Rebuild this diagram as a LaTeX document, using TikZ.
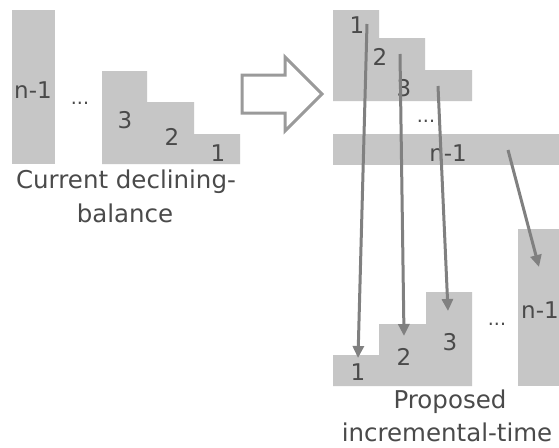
\documentclass[tikz,border=0pt]{standalone}
\usepackage{fontspec}
\setmainfont{DejaVu Sans}
\usetikzlibrary{arrows.meta}
\definecolor{blockgray}{HTML}{C6C6C6}
\definecolor{txtgray}{HTML}{4A4A4A}
\definecolor{arrgray}{HTML}{808080}
\definecolor{outgray}{HTML}{9A9A9A}
\tikzset{
  block/.style={fill=blockgray, draw=none},
  lbl/.style={text=txtgray, font=\fontsize{23}{25}\selectfont, inner sep=0pt, anchor=center},
  dots/.style={text=txtgray, font=\fontsize{19}{21}\selectfont, inner sep=0pt},
  caption/.style={text=txtgray, font=\fontsize{24.5}{27}\selectfont, inner sep=0pt, anchor=center},
  mover/.style={draw=arrgray, line width=3pt, -{Triangle[length=12pt,width=11pt]}},
  hollow/.style={draw=outgray, line width=3pt, fill=white, line join=miter}
}
\begin{document}
\begin{tikzpicture}[x=1pt,y=-1pt]
\clip (0,0) rectangle (559,447);
\fill[white] (0,0) rectangle (559,447);
% ---------- left: current declining-balance ----------
\fill[block] (12,10) rectangle (55,164);
\node[lbl] (ln) at (33,90) {n-1};
\node[dots] (ldots) at (80,103) {...};
\fill[block] (102,164) -- (102,71) -- (147,71) -- (147,102) -- (194,102) -- (194,134) -- (240,134) -- (240,164) -- cycle;
\node[lbl] (l3) at (125,120) {3};
\node[lbl] (l2) at (172,137) {2};
\node[lbl] (l1) at (218,153) {1};
\node[caption] (cap1) at (126,182) {Current declining-};
\node[caption] (cap2) at (125,213) {balance};
% ---------- hollow arrow ----------
\draw[hollow] (242,75) -- (285,75) -- (285,57) -- (322,94) -- (285,131) -- (285,113) -- (242,113) -- cycle;
% ---------- right top: descending staircase ----------
\fill[block] (333,101) -- (333,10) -- (379,10) -- (379,38) -- (425,38) -- (425,70) -- (472,70) -- (472,101) -- cycle;
\node[lbl] (t1) at (357,25) {1};
\node[lbl] (t2) at (380,57) {2};
\node[lbl] (t3) at (404,88) {3};
\node[dots] (tdots) at (426,121) {...};
\fill[block] (333,134) rectangle (570,165);
\node[lbl] (tn) at (448,153) {n-1};
% ---------- right bottom: ascending staircase ----------
\fill[block] (333,386) -- (333,355) -- (379,355) -- (379,324) -- (426,324) -- (426,292) -- (472,292) -- (472,386) -- cycle;
\node[lbl] (b1) at (358,372) {1};
\node[lbl] (b2) at (404,357) {2};
\node[lbl] (b3) at (450,342) {3};
\node[dots] (bdots) at (497,324) {...};
\fill[block] (518,229) rectangle (570,386);
\node[lbl, anchor=west] (bn) at (521,310) {n-1};
\node[caption] (cap3) at (450,402) {Proposed};
\node[caption] (cap4) at (447,432) {incremental-time};
% ---------- moving arrows ----------
\coordinate (s1) at (367,24);
\coordinate (e1) at (358,358);
\coordinate (s2) at (400,54);
\coordinate (e2) at (404,336);
\coordinate (s3) at (438,86);
\coordinate (e3) at (448,311);
\coordinate (s4) at (508,150);
\coordinate (e4) at (539,267);
\draw[mover] (s1) -- (e1);
\draw[mover] (s2) -- (e2);
\draw[mover] (s3) -- (e3);
\draw[mover] (s4) -- (e4);
\end{tikzpicture}
\end{document}
